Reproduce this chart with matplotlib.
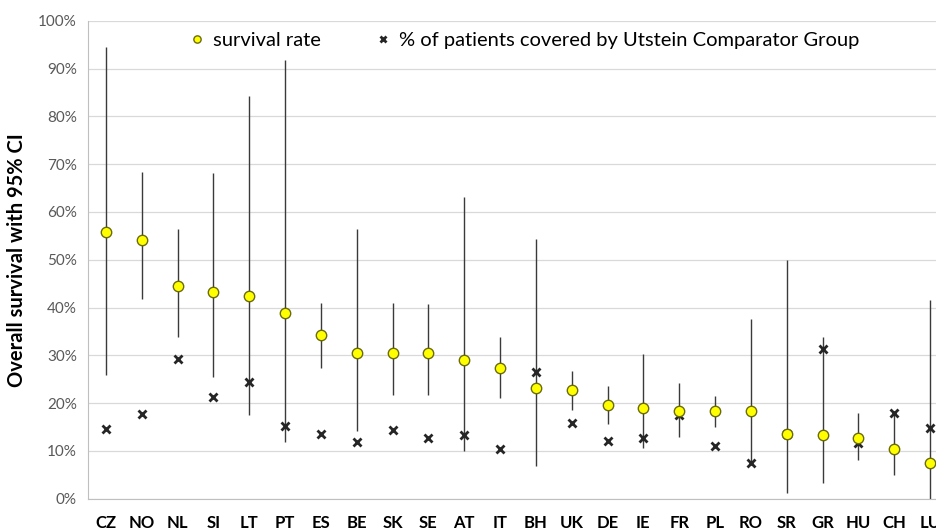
import numpy as np
import matplotlib
matplotlib.use("Agg")
import matplotlib.pyplot as plt
from matplotlib.ticker import PercentFormatter

plt.rcParams['font.family'] = ['Lato', 'DejaVu Sans']

countries = ['CZ', 'NO', 'NL', 'SI', 'LT', 'PT', 'ES', 'BE', 'SK', 'SE', 'AT', 'IT',
             'BH', 'UK', 'DE', 'IE', 'FR', 'PL', 'RO', 'SR', 'GR', 'HU', 'CH', 'LU']
survival = [55.7, 54.1, 44.4, 43.3, 42.5, 38.9, 34.2, 30.5, 30.5, 30.5, 29.0, 27.4,
            23.1, 22.7, 19.7, 19.0, 18.4, 18.3, 18.3, 13.5, 13.3, 12.8, 10.5, 7.5]
ci_low = [25.9, 41.7, 33.8, 25.5, 17.5, 11.8, 27.4, 14.2, 21.7, 21.7, 10.0, 21.0,
          6.8, 18.6, 15.6, 10.7, 13.0, 14.9, 7.4, 1.1, 3.3, 8.2, 5.0, 0.0]
ci_high = [94.4, 68.4, 56.4, 68.1, 84.3, 91.7, 41.0, 56.5, 41.0, 40.7, 63.2, 33.9,
           54.3, 26.7, 23.6, 30.2, 24.3, 21.5, 37.6, 49.9, 33.9, 18.0, 17.8, 41.6]
covered = [14.6, 17.7, 29.2, 21.3, 24.4, 15.2, 13.5, 11.9, 14.3, 12.6, 13.3, 10.3,
           26.6, 15.9, 12.1, 12.8, 17.5, 11.0, 7.4, 13.5, 31.3, 11.6, 18.0, 14.7]

W, H = 937, 531
fig = plt.figure(figsize=(W / 100, H / 100), dpi=100)
ax = fig.add_axes([88 / W, 32.3 / H, 860 / W, 478 / H])

x = np.arange(len(countries))
surv = np.array(survival)

ax.vlines(x, ci_low, ci_high, color='#3a3a3a', lw=1.0, zorder=2)
ax.plot(x, covered, linestyle='none', marker='x', color='#262626', ms=5.5, mew=2.0,
        zorder=3, label='% of patients covered by Utstein Comparator Group')
ax.plot(x, surv, linestyle='none', marker='o', mfc='#ffff00', mec='#6b6b10', ms=7.5, mew=1.0,
        zorder=4, label='survival rate')

ax.set_xlim(-0.5, len(countries) - 0.5)
ax.set_ylim(0, 100)
ax.set_yticks(np.arange(0, 101, 10))
ax.yaxis.set_major_formatter(PercentFormatter(decimals=0))
ax.set_xticks(x)
ax.set_xticklabels(countries, fontsize=12, fontweight='bold', color='black')
ax.tick_params(axis='x', length=0, pad=12)
ax.tick_params(axis='y', length=0, pad=8, labelsize=11, labelcolor='#595959')
ax.grid(axis='y', color='#d9d9d9', lw=0.9, zorder=0)
ax.set_axisbelow(True)
for s in ['top', 'right']:
    ax.spines[s].set_visible(False)
ax.spines['left'].set_color('#bfbfbf')
ax.spines['bottom'].set_color('#bfbfbf')
ax.set_ylabel('Overall survival with 95% CI', fontsize=14.5, fontweight='bold', labelpad=8)

h, l = ax.get_legend_handles_labels()
ax.legend(h[::-1], l[::-1], ncol=2, loc='center', bbox_to_anchor=(0.506, 0.958),
          frameon=False, fontsize=14.5, markerscale=0.7, handletextpad=0.3,
          columnspacing=2.6, handlelength=1.0)

fig.savefig('out.png', dpi=100)
